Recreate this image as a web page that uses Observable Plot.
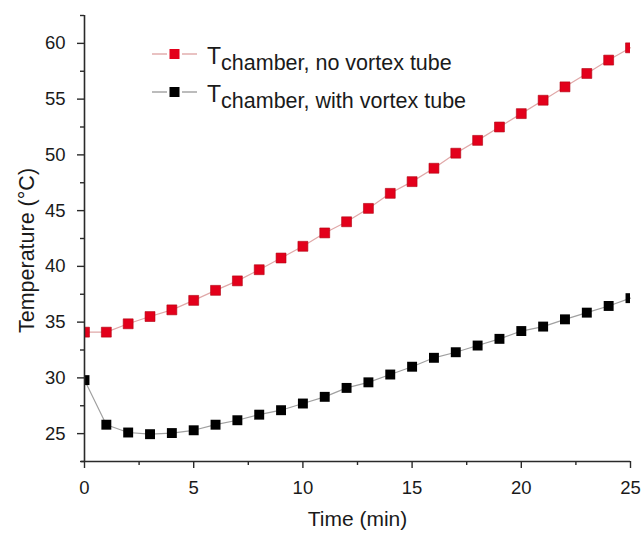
<!DOCTYPE html>
<html><head><meta charset="utf-8">
<script src="https://cdn.jsdelivr.net/npm/d3@7"></script>
<script src="https://cdn.jsdelivr.net/npm/@observablehq/plot@0.6"></script>
<style>
body{margin:0;background:#fff;font-family:"Liberation Sans",Arial,sans-serif;}
#wrap{position:relative;width:641px;height:536px;}
#legend{position:absolute;left:0;top:0;pointer-events:none;}
</style></head><body><div id="wrap"></div>
<script>
const minutes = [0,1,2,3,4,5,6,7,8,9,10,11,12,13,14,15,16,17,18,19,20,21,22,23,24,25];
const noVortex = [34.1,34.1,34.85,35.5,36.1,36.95,37.85,38.7,39.7,40.75,41.8,43.0,44.0,45.2,46.55,47.6,48.8,50.15,51.3,52.5,53.7,54.9,56.1,57.3,58.5,59.6];
const withVortex = [29.8,25.8,25.1,24.95,25.05,25.3,25.8,26.2,26.7,27.1,27.7,28.3,29.1,29.6,30.3,31.0,31.8,32.3,32.9,33.5,34.2,34.6,35.25,35.85,36.45,37.15];
const seriesNames = ["no vortex tube", "with vortex tube"];
const xTicks = [0,5,10,15,20,25];
const xMinor = [2.5,7.5,12.5,17.5,22.5];
const yTicks = [25,30,35,40,45,50,55,60];
const yMinor = [22.5,27.5,32.5,37.5,42.5,47.5,52.5,57.5,62.5];
const xLabel = "Time (min)";
const yLabel = "Temperature (°C)";

const rowsNo = minutes.map((t,i)=>({t, v:noVortex[i]}));
const rowsWith = minutes.map((t,i)=>({t, v:withVortex[i]}));

const red = "#e3001b";
const axisColor = "#2a2a2a";

const chart = Plot.plot({
  width: 641, height: 536,
  marginTop: 15, marginBottom: 75, marginLeft: 84, marginRight: 11,
  style: {fontFamily: '"Liberation Sans", Arial, sans-serif', fontSize: "18.5px", color: "#1a1a1a", background: "white", overflow: "visible"},
  x: {domain: [0, 25]},
  y: {domain: [22.5, 62.5]},
  marks: [
    Plot.line(rowsNo, {x: "t", y: "v", stroke: "#e0a8a8", strokeWidth: 1.2}),
    Plot.line(rowsWith, {x: "t", y: "v", stroke: "#a0a0a0", strokeWidth: 1.2}),
    Plot.dot(rowsNo, {x: "t", y: "v", symbol: "square", fill: red, stroke: "#b00010", strokeWidth: 0.6, r: 5.6, clip: true}),
    Plot.dot(rowsWith, {x: "t", y: "v", symbol: "square", fill: "#000", r: 5.6, clip: true}),
    Plot.ruleX([0], {stroke: axisColor, strokeWidth: 1.6}),
    Plot.ruleY([22.5], {stroke: axisColor, strokeWidth: 1.6, insetLeft: -3}),
    Plot.axisX({ticks: xTicks, tickSize: 7, tickPadding: 12, label: null, stroke: axisColor, strokeWidth: 1.4}),
    Plot.axisX({ticks: xMinor, tickSize: 4, text: null, label: null, stroke: axisColor, strokeWidth: 1.4}),
    Plot.axisY({ticks: yTicks, tickSize: 7, tickPadding: 12, label: null, stroke: axisColor, strokeWidth: 1.4}),
    Plot.axisY({ticks: yMinor, tickSize: 4, text: null, label: null, stroke: axisColor, strokeWidth: 1.4}),
    Plot.text([xLabel], {frameAnchor: "bottom", textAnchor: "middle", dy: 64, fontSize: 21}),
    Plot.text([yLabel], {frameAnchor: "left", textAnchor: "middle", dx: -57, dy: 12, rotate: -90, fontSize: 21.5})
  ]
});
const wrap = document.getElementById("wrap");
wrap.appendChild(chart);

// legend overlay
const legendItems = [
  {name: seriesNames[0], fill: red, line: "#e0a8a8"},
  {name: seriesNames[1], fill: "#000", line: "#a0a0a0"}
];
const ns = "http://www.w3.org/2000/svg";
const lg = document.createElementNS(ns, "svg");
lg.setAttribute("id", "legend");
lg.setAttribute("width", 641);
lg.setAttribute("height", 536);
lg.style.fontFamily = '"Liberation Sans", Arial, sans-serif';
legendItems.forEach((it, i) => {
  const cy = 54 + i * 38;
  const g = document.createElementNS(ns, "g");
  g.innerHTML =
    `<line x1="152" x2="167" y1="${cy}" y2="${cy}" stroke="${it.line}" stroke-width="1.4"/>` +
    `<line x1="182" x2="197" y1="${cy}" y2="${cy}" stroke="${it.line}" stroke-width="1.4"/>` +
    `<rect x="169.5" y="${cy-5}" width="10" height="10" fill="${it.fill}"/>` +
    `<text x="207" y="${cy+10}" font-size="23" fill="#1a1a1a">T<tspan dy="6" font-size="21.5">chamber, ${it.name}</tspan></text>`;
  lg.appendChild(g);
});
wrap.appendChild(lg);
</script></body></html>
